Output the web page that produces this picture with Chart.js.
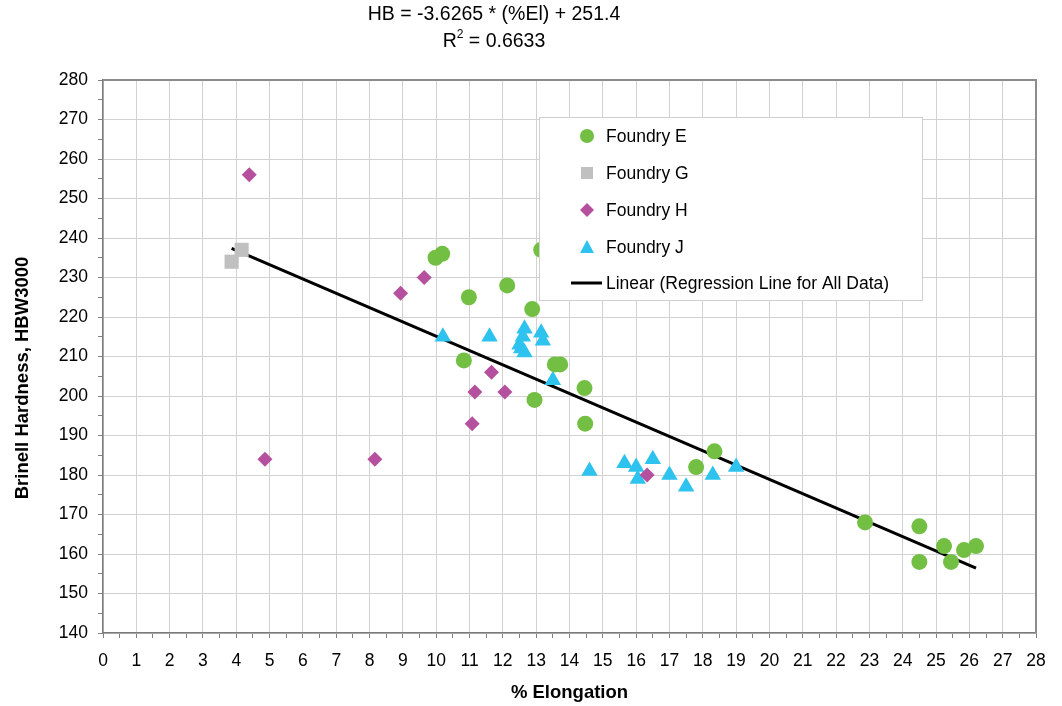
<!DOCTYPE html>
<html><head><meta charset="utf-8">
<script src="https://cdn.jsdelivr.net/npm/chart.js@4.4.1/dist/chart.umd.min.js"></script>
<style>html,body{margin:0;padding:0;background:#fff}#wrap{width:1062px;height:706px}</style>
</head><body><div id="wrap"><canvas id="c" width="1062" height="706"></canvas></div>
<script>
// ---- text ----
const equationLine1 = 'HB = -3.6265 * (%El) + 251.4';
const equationLine2 = ['R', '2', ' = 0.6633'];
const xTitle = '% Elongation';
const yTitle = 'Brinell Hardness, HBW3000';
const seriesNames = ['Foundry E', 'Foundry G', 'Foundry H', 'Foundry J', 'Linear (Regression Line for All Data)'];

// ---- data ----
const foundryE_x = [9.98, 10.18, 10.98, 12.13, 12.88, 13.15, 10.83, 13.56, 13.72, 14.45, 12.95, 14.47, 17.8, 18.35, 22.87, 24.5, 24.5, 25.24, 25.45, 25.84, 26.2];
const foundryE_y = [235, 236, 225, 228, 222, 237, 209, 208, 208, 202, 199, 193, 182, 186, 168, 167, 158, 162, 158, 161, 162];
const foundryG_x = [3.86, 4.16];
const foundryG_y = [234, 237];
const foundryH_x = [4.39, 8.93, 9.64, 11.66, 11.16, 12.06, 11.08, 4.86, 8.16, 16.33];
const foundryH_y = [256, 226, 230, 206, 201, 201, 193, 184, 184, 180];
const foundryJ_x = [10.2, 11.6, 12.65, 13.15, 13.2, 12.6, 12.5, 12.55, 12.65, 13.5, 14.6, 15.65, 16.0, 16.05, 16.5, 17.0, 17.5, 18.3, 19.0];
const foundryJ_y = [215, 215, 217, 216, 214, 215, 213, 212, 211, 204, 181, 183, 182, 179, 184, 180, 177, 180, 182];
const regression_x = [3.86, 26.2];
const regression_y = [237.4, 156.4];

// ---- axis ranges ----
const xMin = 0, xMax = 28, xMinorStep = 0.5;
const yMin = 140, yMax = 280, yMinorStep = 5;

const pts = (xs, ys) => xs.map((x, i) => ({x: x, y: ys[i]}));

const colE = '#72BF44', colG = '#C0C0C0', colH = '#B5509E', colJ = '#2EC3EF';
const FONT = '"Liberation Sans", Arial, sans-serif';

const decorPlugin = {
  id: 'decor',
  afterDatasetsDraw(chart) {
    const ctx = chart.ctx, a = chart.chartArea;
    ctx.save();
    // top & right frame
    ctx.strokeStyle = '#8c8c8c';
    ctx.lineWidth = 2;
    ctx.beginPath();
    ctx.moveTo(a.left, a.top); ctx.lineTo(a.right, a.top); ctx.lineTo(a.right, a.bottom);
    ctx.stroke();

    // legend box
    const bx = 539, by = 117, bw = 383, bh = 183;
    ctx.fillStyle = '#fff';
    ctx.fillRect(bx, by, bw, bh);
    ctx.strokeStyle = '#cfcfcf';
    ctx.lineWidth = 1;
    ctx.strokeRect(bx + 0.5, by + 0.5, bw, bh);
    const rows = [136, 173, 210, 247, 283];
    const mx = 587, tx = 606;
    ctx.font = '17.5px ' + FONT;
    ctx.textBaseline = 'middle';
    ctx.textAlign = 'left';
    seriesNames.forEach((name, i) => {
      const y = rows[i];
      ctx.fillStyle = '#000';
      ctx.fillText(name, tx, y + 1);
      ctx.beginPath();
      if (i === 0) { ctx.fillStyle = colE; ctx.arc(mx, y, 7, 0, Math.PI * 2); ctx.fill(); }
      else if (i === 1) { ctx.fillStyle = colG; ctx.fillRect(mx - 6, y - 6, 12, 12); }
      else if (i === 2) { ctx.fillStyle = colH; ctx.moveTo(mx, y - 7); ctx.lineTo(mx + 7, y); ctx.lineTo(mx, y + 7); ctx.lineTo(mx - 7, y); ctx.closePath(); ctx.fill(); }
      else if (i === 3) { ctx.fillStyle = colJ; ctx.moveTo(mx, y - 7); ctx.lineTo(mx + 7, y + 6); ctx.lineTo(mx - 7, y + 6); ctx.closePath(); ctx.fill(); }
      else { ctx.strokeStyle = '#000'; ctx.lineWidth = 3; ctx.moveTo(571, y); ctx.lineTo(602, y); ctx.stroke(); }
    });
    ctx.restore();
  },
  afterDraw(chart) {
    const ctx = chart.ctx;
    ctx.save();
    ctx.fillStyle = '#000';
    ctx.textBaseline = 'middle';
    // equation line 1
    ctx.font = '19.5px ' + FONT;
    ctx.textAlign = 'center';
    ctx.fillText(equationLine1, 494, 15);
    // equation line 2 with superscript
    ctx.textAlign = 'left';
    const big = '19.5px ' + FONT, small = '12px ' + FONT;
    ctx.font = big; const wR = ctx.measureText(equationLine2[0]).width;
    ctx.font = small; const w2 = ctx.measureText(equationLine2[1]).width;
    ctx.font = big; const wRest = ctx.measureText(equationLine2[2]).width;
    let x0 = 494 - (wR + w2 + wRest) / 2;
    ctx.font = big; ctx.fillText(equationLine2[0], x0, 42);
    ctx.font = small; ctx.fillText(equationLine2[1], x0 + wR, 35);
    ctx.font = big; ctx.fillText(equationLine2[2], x0 + wR + w2, 42);
    // y axis title
    ctx.font = 'bold 18.5px ' + FONT;
    ctx.textAlign = 'center';
    ctx.translate(23, 378);
    ctx.rotate(-Math.PI / 2);
    ctx.fillText(yTitle, 0, 0);
    ctx.restore();
  }
};

const isMajor = (v, step) => Math.abs(v / step - Math.round(v / step)) < 1e-6;

new Chart(document.getElementById('c'), {
  type: 'scatter',
  data: {
    datasets: [
      {label: seriesNames[0], data: pts(foundryE_x, foundryE_y), pointStyle: 'circle', pointRadius: 8, pointHoverRadius: 8, backgroundColor: colE, borderColor: colE, borderWidth: 0},
      {label: seriesNames[1], data: pts(foundryG_x, foundryG_y), pointStyle: 'rect', pointRadius: 10, pointHoverRadius: 10, backgroundColor: colG, borderColor: colG, borderWidth: 0},
      {label: seriesNames[2], data: pts(foundryH_x, foundryH_y), pointStyle: 'rectRot', pointRadius: 7.5, pointHoverRadius: 7.5, backgroundColor: colH, borderColor: colH, borderWidth: 0},
      {label: seriesNames[3], data: pts(foundryJ_x, foundryJ_y), pointStyle: 'triangle', pointRadius: 9.5, pointHoverRadius: 9.5, backgroundColor: colJ, borderColor: colJ, borderWidth: 0},
      {label: seriesNames[4], type: 'line', data: pts(regression_x, regression_y), borderColor: '#000', borderWidth: 3, pointRadius: 0, fill: false, showLine: true}
    ]
  },
  options: {
    responsive: false,
    animation: false,
    devicePixelRatio: 1,
    layout: {padding: {top: 80, right: 26, left: 0, bottom: 0}},
    plugins: {legend: {display: false}, tooltip: {enabled: false}, title: {display: false}},
    scales: {
      x: {
        type: 'linear', min: xMin, max: xMax,
        afterFit(s) { s.height = 73; },
        ticks: {
          stepSize: xMinorStep, maxTicksLimit: 200, autoSkip: false, maxRotation: 0, minRotation: 0,
          callback: v => isMajor(v, 1) ? String(v) : '',
          color: '#000', font: {size: 17.5, family: FONT}, padding: 13
        },
        grid: {
          color: c => (c.tick && isMajor(c.tick.value, 1)) ? '#d2d2d2' : 'rgba(0,0,0,0)',
          tickColor: '#808080', tickLength: 5, lineWidth: 1
        },
        border: {color: '#7a7a7a', width: 1.5},
        title: {display: true, text: xTitle, color: '#000', font: {size: 18.5, weight: 'bold', family: FONT}, padding: {top: 0, bottom: 2}}
      },
      y: {
        type: 'linear', min: yMin, max: yMax,
        afterFit(s) { s.width = 103; },
        ticks: {
          stepSize: yMinorStep, maxTicksLimit: 200, autoSkip: false,
          callback: v => isMajor(v, 10) ? String(v) : '',
          color: '#000', font: {size: 17.5, family: FONT}, padding: 10
        },
        grid: {
          color: c => (c.tick && isMajor(c.tick.value, 10)) ? '#d2d2d2' : 'rgba(0,0,0,0)',
          tickColor: '#808080', tickLength: 5, lineWidth: 1
        },
        border: {color: '#7a7a7a', width: 1.5},
        title: {display: false}
      }
    }
  },
  plugins: [decorPlugin]
});
</script>
</body></html>
